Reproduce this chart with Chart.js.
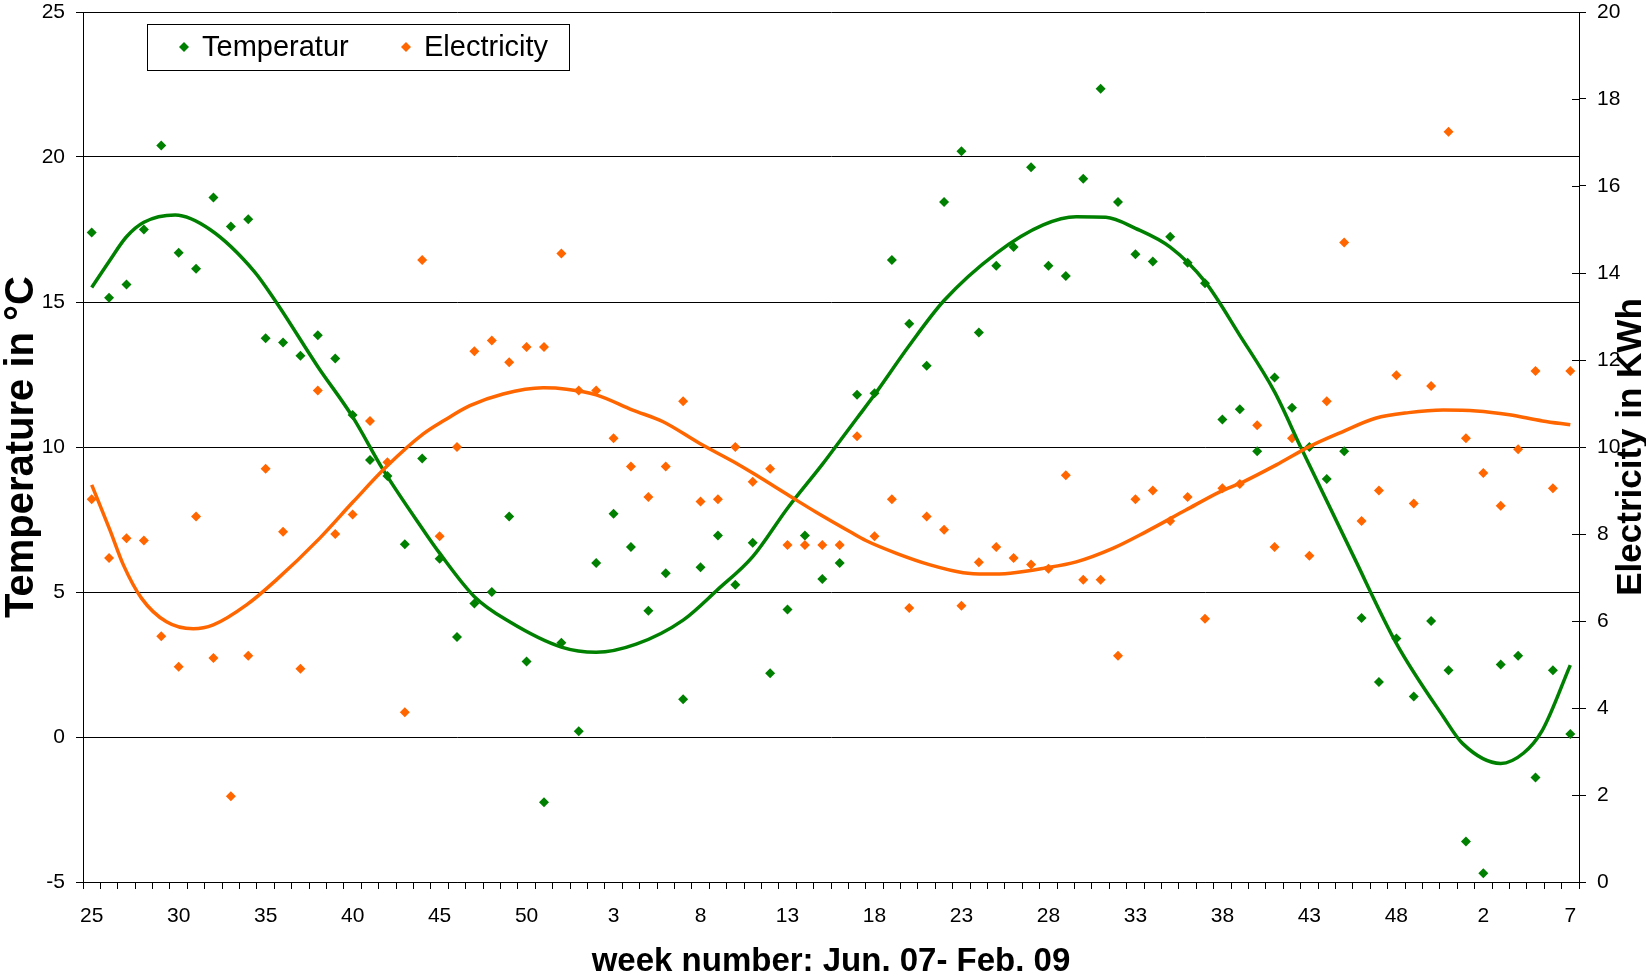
<!DOCTYPE html>
<html>
<head>
<meta charset="utf-8">
<title>Temperature and electricity per week</title>
<script src="https://cdn.jsdelivr.net/npm/chart.js@4.4.0/dist/chart.umd.min.js"></script>
<style>
  html, body { margin: 0; padding: 0; background: #fff; }
  #wrap { width: 1646px; height: 977px; }
</style>
</head>
<body>
<div id="wrap"><canvas id="weekChart" width="1646" height="977"></canvas></div>
<script>
// Week numbers, Jun. 2007 - Feb. 2009
const weeks = [
    25, 26, 27, 28, 29, 30, 31, 32, 33, 34, 35, 36, 37, 38, 39, 40, 41, 42, 43, 44, 45, 46, 47, 48, 49, 50, 51, 52,
    1, 2, 3, 4, 5, 6, 7, 8, 9, 10, 11, 12, 13, 14, 15, 16, 17, 18, 19, 20, 21, 22, 23, 24, 25, 26,
    27, 28, 29, 30, 31, 32, 33, 34, 35, 36, 37, 38, 39, 40, 41, 42, 43, 44, 45, 46, 47, 48, 49, 50, 51,
    1, 2, 3, 4, 5, 6, 7
];

// Weekly mean temperature (°C)
const temperature = [
    17.4, 15.15, 15.6, 17.5, 20.4, 16.7, 16.15, 18.6, 17.6, 17.85,
    13.75, 13.6, 13.15, 13.85, 13.05, 11.1, 9.55, 9.0, 6.65, 9.6,
    6.15, 3.45, 4.6, 5.0, 7.6, 2.6, -2.25, 3.25, 0.2, 6.0,
    7.7, 6.55, 4.35, 5.65, 1.3, 5.85, 6.95, 5.25, 6.7, 2.2,
    4.4, 6.95, 5.45, 6.0, 11.8, 11.85, 16.45, 14.25, 12.8, 18.45,
    20.2, 13.95, 16.25, 16.9, 19.65, 16.25, 15.9, 19.25, 22.35, 18.45,
    16.65, 16.4, 17.25, 16.35, 15.65, 10.95, 11.3, 9.85, 12.4, 11.35,
    10.0, 8.9, 9.85, 4.1, 1.9, 3.4, 1.4, 4.0, 2.3, -3.6,
    -4.7, 2.5, 2.8, -1.4, 2.3, 0.1
];

// Weekly electricity use (kWh)
const electricity = [
    8.8, 7.45, 7.9, 7.85, 5.65, 4.95, 8.4, 5.15, 1.97, 5.2,
    9.5, 8.05, 4.9, 11.3, 8.0, 8.45, 10.6, 9.65, 3.9, 14.3,
    7.95, 10.0, 12.2, 12.45, 11.95, 12.3, 12.3, 14.45, 11.3, 11.3,
    10.2, 9.55, 8.85, 9.55, 11.05, 8.75, 8.8, 10.0, 9.2, 9.5,
    7.75, 7.75, 7.75, 7.75, 10.25, 7.95, 8.8, 6.3, 8.4, 8.1,
    6.35, 7.35, 7.7, 7.45, 7.3, 7.2, 9.35, 6.95, 6.95, 5.2,
    8.8, 9.0, 8.3, 8.85, 6.05, 9.05, 9.15, 10.5, 7.7, 10.2,
    7.5, 11.05, 14.7, 8.3, 9.0, 11.65, 8.7, 11.4, 17.25, 10.2,
    9.4, 8.65, 9.95, 11.75, 9.05, 11.75
];

// Trend lines: position (weeks after the first point) and value
const tempTrendPos = [0, 1, 2, 3, 4.8, 6.8, 9.35, 10.6, 13, 15, 16.76, 19.06, 20, 22, 24, 27, 29, 31.3, 34, 36,
    38, 40, 42, 43, 44, 45, 47, 49, 52, 54.7, 56.6, 58.3, 60, 62, 64, 66, 68, 69.5, 72.5, 75,
    77.7, 78.8, 81, 82.3, 83.4, 85];
const tempTrendVal = [15.5, 16.4, 17.25, 17.75, 18.0, 17.5, 16.05, 15.0, 12.77, 11.04, 9.21, 7.14, 6.34, 4.84, 3.98, 3.1, 2.92, 3.2, 4.03, 5.09,
    6.22, 7.89, 9.4, 10.2, 11.0, 11.8, 13.5, 15.05, 16.68, 17.66, 17.94, 17.92, 17.54, 16.89, 15.7, 13.85, 11.9, 10.0, 6.28, 3.23,
    0.7, -0.22, -0.91, -0.56, 0.24, 2.48];

const elecTrendPos = [0, 1.05, 1.82, 2.87, 4.3, 5.84, 6.99, 8.9, 10.6, 13.1, 15.03, 16.95, 19.06, 20.3, 21.74, 23.65, 25.95, 27.3, 29, 31.1,
    32.85, 34.96, 36.9, 38, 40.1, 41.65, 43.6, 44.5, 46.3, 48.2, 50.1, 51.4, 52.8, 54.7, 56.6, 58.7, 60.6, 62.9, 64.85, 66.2,
    68.1, 70, 71.9, 73.8, 75.7, 77.7, 79.6, 81.5, 83.4, 85];
const elecTrendVal = [9.13, 8.09, 7.29, 6.52, 5.98, 5.82, 5.91, 6.37, 6.94, 7.9, 8.74, 9.55, 10.3, 10.62, 10.95, 11.22, 11.36, 11.33, 11.2, 10.85,
    10.58, 10.08, 9.66, 9.4, 8.88, 8.5, 8.05, 7.85, 7.55, 7.29, 7.11, 7.08, 7.1, 7.21, 7.36, 7.67, 8.05, 8.55, 8.97, 9.2,
    9.59, 10.01, 10.35, 10.66, 10.79, 10.85, 10.83, 10.74, 10.6, 10.51];

const GREEN = '#008000';
const ORANGE = '#ff6600';
const FONT = "'Liberation Sans', Arial, sans-serif";

function diamond(ctx, x, y, r, color) {
    ctx.beginPath();
    ctx.moveTo(x, y - r);
    ctx.lineTo(x + r, y);
    ctx.lineTo(x, y + r);
    ctx.lineTo(x - r, y);
    ctx.closePath();
    ctx.fillStyle = color;
    ctx.fill();
}

// Legend box, right axis title and the inner half of the right axis ticks
const extras = {
    id: 'extras',
    afterDraw(chart) {
        const ctx = chart.ctx;
        const area = chart.chartArea;
        const y2 = chart.scales.y2;

        ctx.save();
        ctx.strokeStyle = '#000';
        ctx.lineWidth = 1;
        y2.ticks.forEach(t => {
            const py = Math.round(y2.getPixelForValue(t.value)) + 0.5;
            ctx.beginPath();
            ctx.moveTo(area.right - 7, py);
            ctx.lineTo(area.right, py);
            ctx.stroke();
        });

        // legend
        const lx = area.left + 64, ly = area.top + 12, lw = 422, lh = 46;
        ctx.fillStyle = '#fff';
        ctx.fillRect(lx, ly, lw, lh);
        ctx.strokeRect(lx + 0.5, ly + 0.5, lw, lh);
        const midY = ly + lh / 2;
        diamond(ctx, lx + 37, midY, 5, GREEN);
        diamond(ctx, lx + 259, midY, 5, ORANGE);
        ctx.fillStyle = '#000';
        ctx.font = '29px ' + FONT;
        ctx.textBaseline = 'middle';
        ctx.textAlign = 'left';
        ctx.fillText('Temperatur', lx + 55, midY + 1);
        ctx.fillText('Electricity', lx + 277, midY + 1);

        // right axis title, reading upwards
        ctx.translate(1641, (area.top + area.bottom) / 2);
        ctx.rotate(-Math.PI / 2);
        ctx.font = 'bold 35px ' + FONT;
        ctx.textAlign = 'center';
        ctx.textBaseline = 'alphabetic';
        ctx.fillText('Electricity in KWh', 0, 0);
        ctx.restore();
    }
};

const tickFont = { family: FONT, size: 21, lineHeight: 1 };

// fixed axis widths; no extra room for the end labels
function fixWidth(w) {
    return function (scale) {
        scale.width = w;
        scale.paddingTop = 0;
        scale.paddingBottom = 0;
    };
}

const ctx = document.getElementById('weekChart').getContext('2d');
const weekChart = new Chart(ctx, {
    type: 'line',
    data: {
        labels: weeks.map(String),
        datasets: [
            {
                label: 'Temperatur',
                data: temperature,
                xAxisID: 'x',
                yAxisID: 'y',
                showLine: false,
                pointStyle: 'rectRot',
                pointRadius: 5,
                pointBorderWidth: 0,
                pointBackgroundColor: GREEN,
                borderColor: GREEN,
                order: 3
            },
            {
                label: 'Electricity',
                data: electricity,
                xAxisID: 'x',
                yAxisID: 'y2',
                showLine: false,
                pointStyle: 'rectRot',
                pointRadius: 5,
                pointBorderWidth: 0,
                pointBackgroundColor: ORANGE,
                borderColor: ORANGE,
                order: 2
            },
            {
                label: 'Temperatur trend',
                data: tempTrendPos.map((p, i) => ({ x: p, y: tempTrendVal[i] })),
                xAxisID: 'xt',
                yAxisID: 'y',
                borderColor: GREEN,
                borderWidth: 3.5,
                pointRadius: 0,
                cubicInterpolationMode: 'monotone',
                fill: false,
                order: 1
            },
            {
                label: 'Electricity trend',
                data: elecTrendPos.map((p, i) => ({ x: p, y: elecTrendVal[i] })),
                xAxisID: 'xt',
                yAxisID: 'y2',
                borderColor: ORANGE,
                borderWidth: 3.5,
                pointRadius: 0,
                cubicInterpolationMode: 'monotone',
                fill: false,
                order: 0
            }
        ]
    },
    options: {
        responsive: false,
        animation: false,
        layout: { padding: { top: 12, left: 0, right: 0, bottom: 0 } },
        plugins: {
            legend: { display: false },
            tooltip: { enabled: false }
        },
        scales: {
            x: {
                type: 'category',
                position: 'bottom',
                offset: true,
                grid: { display: true, drawOnChartArea: false, offset: true, tickLength: 7, color: '#000', lineWidth: 1 },
                border: { display: true, color: '#000', width: 1 },
                ticks: {
                    autoSkip: false,
                    maxRotation: 0,
                    minRotation: 0,
                    padding: 17,
                    color: '#000',
                    font: tickFont,
                    callback: function (value, index) {
                        return index % 5 === 0 ? String(weeks[index]) : '';
                    }
                },
                title: {
                    display: true,
                    text: 'week number: Jun. 07- Feb. 09',
                    color: '#000',
                    font: { family: FONT, size: 33, weight: 'bold', lineHeight: 1.2 },
                    padding: { top: 0, bottom: -5 }
                },
                afterFit: function (scale) { scale.height = 95; }
            },
            xt: {
                type: 'linear',
                display: false,
                min: -0.5,
                max: 85.5
            },
            y: {
                position: 'left',
                min: -5,
                max: 25,
                ticks: { stepSize: 5, padding: 11, color: '#000', font: tickFont },
                grid: { color: '#000', lineWidth: 1, tickLength: 7 },
                border: { display: true, color: '#000', width: 1 },
                title: {
                    display: true,
                    text: 'Temperature in °C',
                    color: '#000',
                    font: { family: FONT, size: 40, weight: 'bold', lineHeight: 1.1 },
                    padding: { top: 0, bottom: 0 }
                },
                afterFit: fixWidth(83)
            },
            y2: {
                position: 'right',
                min: 0,
                max: 20,
                ticks: { stepSize: 2, padding: 11, color: '#000', font: tickFont },
                grid: { drawOnChartArea: false, color: '#000', lineWidth: 1, tickLength: 7 },
                border: { display: true, color: '#000', width: 1 },
                afterFit: fixWidth(67)
            }
        }
    },
    plugins: [extras]
});
</script>
</body>
</html>
